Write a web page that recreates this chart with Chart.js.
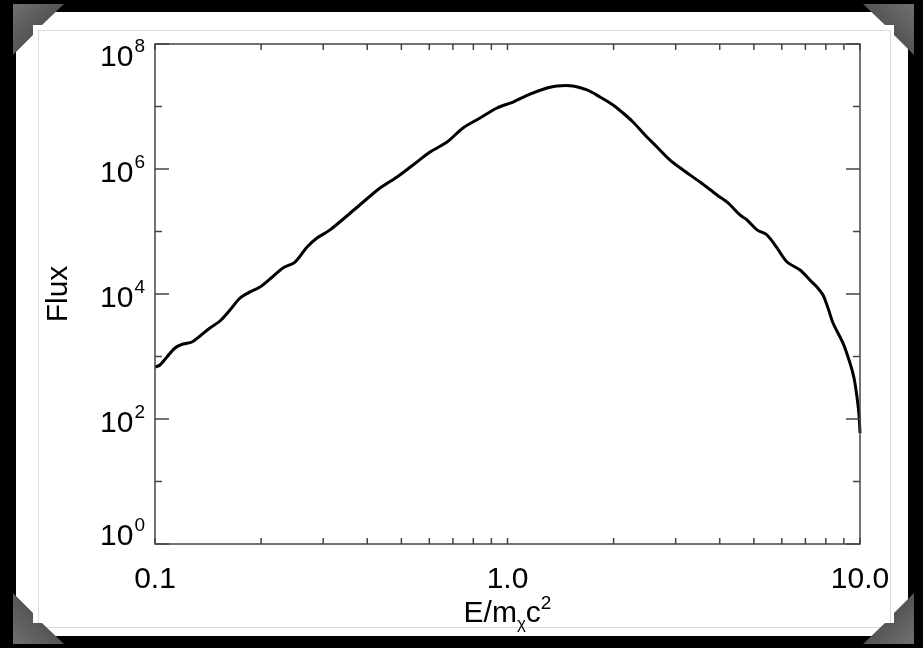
<!DOCTYPE html>
<html>
<head>
<meta charset="utf-8">
<script src="https://cdn.jsdelivr.net/npm/chart.js@4/dist/chart.umd.min.js"></script>
<style>
  html, body { margin: 0; padding: 0; background: #000; }
  #wrap { position: relative; width: 923px; height: 648px; overflow: hidden; }
  .card { position: absolute; left: 16px; top: 12px; width: 892px; height: 624px; background: #fff; }
  .inner { position: absolute; left: 38px; top: 30px; width: 851px; height: 596px; border: 1.5px solid #dcdcdc; }
  .corner { position: absolute; width: 52px; height: 52px;
    background: linear-gradient(135deg, #707070, #383838);
    clip-path: polygon(0 0, 51px 0, 29px 21px, 20px 21px, 20px 31px, 0 51px); }
  #c { position: absolute; left: 0; top: 0; }
</style>
</head>
<body>
<div id="wrap">
  <div class="card"></div>
  <div class="inner"></div>
  <div class="corner" style="left:13px;top:4px"></div>
  <div class="corner" style="left:862px;top:4px;transform:scaleX(-1)"></div>
  <div class="corner" style="left:13px;top:592px;transform:scaleY(-1)"></div>
  <div class="corner" style="left:862px;top:592px;transform:scale(-1,-1)"></div>
  <canvas id="c" width="923" height="648"></canvas>
</div>
<script>
// E / m_x c^2
const energy = [0.100, 0.1033, 0.1081, 0.1140, 0.1201, 0.1273, 0.1342, 0.1432, 0.1529, 0.1632,
  0.1743, 0.1860, 0.1986, 0.2120, 0.2307, 0.2496, 0.2700, 0.2882, 0.3137, 0.3694,
  0.4348, 0.4860, 0.5395, 0.6028, 0.6737, 0.7478, 0.8357, 0.9339, 1.037, 1.158,
  1.295, 1.382, 1.534, 1.681, 1.830, 1.992, 2.127, 2.270, 2.455, 2.655,
  2.891, 3.148, 3.516, 3.930, 4.222, 4.566, 4.779, 5.103, 5.447, 5.815,
  6.208, 6.758, 7.214, 7.551, 7.853, 8.114, 8.383, 8.949, 9.367, 9.616,
  9.806, 9.935, 10.0];
const flux = [679, 731, 982, 1368, 1585, 1706, 2128, 2858, 3698, 5546,
  8630, 1.08e4, 1.29e4, 1.74e4, 2.61e4, 3.25e4, 5.65e4, 7.87e4, 1.06e5, 2.29e5,
  4.97e5, 7.45e5, 1.16e6, 1.87e6, 2.70e6, 4.53e6, 6.55e6, 9.46e6, 1.18e7, 1.58e7,
  1.98e7, 2.13e7, 2.13e7, 1.84e7, 1.42e7, 1.06e7, 7.87e6, 5.65e6, 3.50e6, 2.25e6,
  1.39e6, 9.64e5, 6.19e5, 3.84e5, 2.86e5, 1.84e5, 1.53e5, 1.06e5, 8.79e4, 5.45e4,
  3.25e4, 2.42e4, 1.67e4, 1.29e4, 9.64e3, 5.97e3, 3.44e3, 1.64e3, 787, 453,
  225, 116, 59.7];

const xTicks = [0.1, 0.2, 0.3, 0.4, 0.5, 0.6, 0.7, 0.8, 0.9, 1, 2, 3, 4, 5, 6, 7, 8, 9, 10];
const xTickLabels = ['0.1', '1.0', '10.0'];
const xLabelValues = [0.1, 1, 10];
const yDecades = [0, 1, 2, 3, 4, 5, 6, 7, 8];
const yLabelExps = [0, 2, 4, 6, 8];

const FONT = '"Liberation Sans", Arial, Helvetica, sans-serif';

function drawPower(ctx, exp, rightX, baseY) {
    ctx.font = '30px ' + FONT;
    const wb = ctx.measureText('10').width;
    ctx.font = '19px ' + FONT;
    const we = ctx.measureText(String(exp)).width;
    const x0 = rightX - we - wb - 1;
    ctx.font = '30px ' + FONT;
    ctx.fillText('10', x0, baseY);
    ctx.font = '19px ' + FONT;
    ctx.fillText(String(exp), x0 + wb + 1, baseY - 14);
}

const axisFrame = {
    id: 'axisFrame',
    afterDatasetsDraw(chart) {
        const ctx = chart.ctx;
        const { left, right, top, bottom } = chart.chartArea;
        const xs = chart.scales.x, ys = chart.scales.y;
        ctx.save();
        ctx.strokeStyle = '#444';
        ctx.lineWidth = 1.5;
        ctx.strokeRect(left, top, right - left, bottom - top);
        ctx.beginPath();
        for (const v of xTicks) {
            const px = xs.getPixelForValue(v);
            ctx.moveTo(px, bottom); ctx.lineTo(px, bottom - 6);
            ctx.moveTo(px, top); ctx.lineTo(px, top + 6);
        }
        for (const d of yDecades) {
            const py = ys.getPixelForValue(Math.pow(10, d));
            const len = d % 2 == 0 ? 14 : 7;
            ctx.moveTo(left, py); ctx.lineTo(left + len, py);
            ctx.moveTo(right, py); ctx.lineTo(right - len, py);
        }
        ctx.stroke();

        ctx.fillStyle = '#000';
        ctx.textBaseline = 'alphabetic';
        // y tick labels
        ctx.textAlign = 'left';
        for (const e of yLabelExps) {
            let cy = ys.getPixelForValue(Math.pow(10, e)) + 2;
            cy = Math.min(Math.max(cy, top + 11), bottom - 10);
            drawPower(ctx, e, left - 10, cy + 11);
        }
        // x tick labels
        ctx.font = '30px ' + FONT;
        ctx.textAlign = 'center';
        xLabelValues.forEach((v, i) => {
            ctx.fillText(xTickLabels[i], xs.getPixelForValue(v), bottom + 44);
        });

        // x title: E/m_chi c^2
        ctx.textAlign = 'left';
        const parts = [['E/m', 30, 0], ['\u03c7', 17, 7], ['c', 30, 0], ['2', 19, -13]];
        let total = 0;
        for (const p of parts) { ctx.font = p[1] + 'px ' + FONT; total += ctx.measureText(p[0]).width; }
        let x = (left + right) / 2 - total / 2;
        for (const p of parts) {
            ctx.font = p[1] + 'px ' + FONT;
            ctx.fillText(p[0], x, bottom + 78 + p[2]);
            x += ctx.measureText(p[0]).width;
        }

        // y title
        ctx.save();
        ctx.translate(67, (top + bottom) / 2);
        ctx.rotate(-Math.PI / 2);
        ctx.textAlign = 'center';
        ctx.font = '30px ' + FONT;
        ctx.fillText('Flux', 0, 0);
        ctx.restore();
        ctx.restore();
    }
};

const chart = new Chart(document.getElementById('c'), {
    type: 'line',
    data: {
        datasets: [{
            data: energy.map((e, i) => ({ x: e, y: flux[i] })),
            borderColor: '#000',
            borderWidth: 3,
            pointRadius: 0,
            tension: 0.3,
            fill: false,
            clip: false
        }]
    },
    options: {
        responsive: false,
        animation: false,
        layout: { padding: { left: 155, top: 44, right: 63, bottom: 104 } },
        plugins: { legend: { display: false }, tooltip: { enabled: false } },
        scales: {
            x: { type: 'logarithmic', min: 0.1, max: 10, display: false },
            y: { type: 'logarithmic', min: 1, max: 1e8, display: false }
        }
    },
    plugins: [axisFrame]
});
</script>
</body>
</html>
